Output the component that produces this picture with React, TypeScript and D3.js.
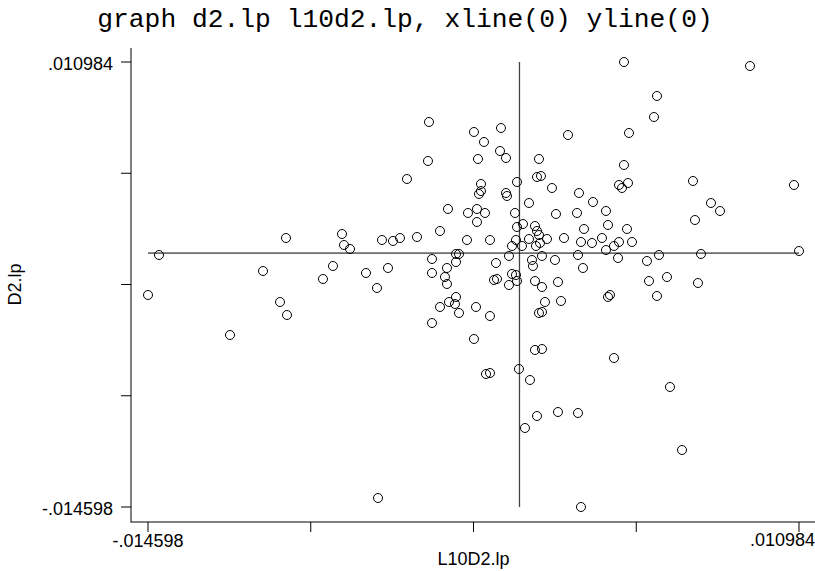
import React from "react";
import * as d3 from "d3";

// Values in units of 1e-3
const UNIT = 1e-3;

// L10D2.lp (x)
const l10d2: number[] = [
  -14.166, -14.598, -11.376, -10.079, -9.176, -9.411, -9.136, -7.722, -7.329, -6.975,
  -6.896, -6.661, -6.032, -5.600, -5.560, -5.167, -5.403, -4.971, -4.696, -4.421,
  -4.028, -3.596, -3.556, -3.124, -3.438, -3.438, -3.438, -3.124, -2.928, -2.849,
  -2.849, -2.810, -2.770, -2.535, -2.495, -2.495, -2.377, -2.495, -2.377, -2.024,
  -2.063, -1.788, -1.788, -1.709, -1.670, -1.670, -1.631, -1.591, -1.513, -1.513,
  -1.395, -1.356, -1.316, -1.159, -1.159, -1.159, -1.002, -0.884, -0.923, -0.766,
  -0.727, -0.530, -0.530, -0.491, -0.413, -0.413, -0.295, -0.295, -0.177, -0.138,
  -0.138, -0.098, -0.098, -0.098, -0.020, 0.098, 0.138, 0.216, 0.373, 0.373,
  0.413, 0.491, 0.530, 0.609, 0.609, 0.609, 0.648, 0.688, 0.688, 0.688,
  0.766, 0.766, 0.766, 0.806, 0.845, 0.884, 0.884, 0.884, 0.884, 1.002,
  1.081, 1.277, 1.395, 1.434, 1.513, 1.513, 1.631, 1.749, 1.906, 2.260,
  2.299, 2.299, 2.338, 2.417, 2.417, 2.495, 2.535, 2.849, 2.888, 3.242,
  3.399, 3.399, 3.478, 3.478, 3.556, 3.713, 3.713, 3.871, 3.910, 3.910,
  4.028, 4.106, 4.106, 4.224, 4.264, 4.303, 4.421, 5.010, 5.089, 5.285,
  5.403, 5.403, 5.482, 5.796, 5.914, 6.386, 6.818, 6.896, 7.014, 7.132,
  7.525, 7.879, 9.058, 10.787, 10.984,
];

// D2.lp (y)
const d2: number[] = [
  -0.111, -2.410, -4.710, -1.031, 0.866, -2.813, -3.560, -1.491, -0.743, 1.096,
  0.464, 0.234, -1.146, -2.008, -14.081, -0.858, 0.751, 0.694, 0.866, 4.258,
  0.924, 5.293, 7.535, 1.269, -0.341, -1.146, -4.020, -3.100, -1.376, -1.778,
  -0.858, 2.534, -2.813, -2.928, -2.525, -0.053, -0.053, -0.513, -3.445, 2.304,
  0.751, 6.960, -4.940, -3.100, 2.534, 1.786, 5.408, 3.396, 3.568, 3.971,
  6.385, 2.304, -6.952, -6.894, 0.751, -3.618, -1.548, -1.491, -0.571, 5.868,
  7.190, 5.465, 3.453, 3.281, -0.168, -1.836, 0.406, -1.203, 2.304, 0.751,
  -1.261, -1.606, 4.086, 1.499, -6.665, 0.406, 1.671, -10.056, 2.878, 0.809,
  -7.297, -0.398, -0.743, 1.556, -1.606, -5.572, 0.406, 4.373, 1.269, -9.367,
  1.039, -3.445, 5.408, 0.579, 4.431, -0.168, -1.951, -3.388, -5.515, -2.813,
  0.809, 3.741, -0.398, 2.246, -1.663, -9.137, -2.755, 0.866, 6.788, 2.304,
  -0.111, -9.194, 3.453, 0.636, -14.598, -0.858, 1.384, 0.579, 2.936, 0.866,
  2.419, 0.176, 1.614, -2.525, -2.410, 0.406, -6.032, -0.283, 0.636, 3.913,
  3.741, 10.984, 5.063, 1.384, 4.028, 6.903, 0.636, -0.456, -1.606, 7.822,
  9.030, -2.468, -0.111, -1.376, -7.699, -11.321, 4.143, 1.901, -1.721, -0.053,
  2.878, 2.419, 10.754, 3.913, 0.119,
];

const axisMin = -0.014598;
const axisMax = 0.010984;
const minLabel = "-.014598";
const maxLabel = ".010984";
const tickCount = 5;

const title = "graph d2.lp l10d2.lp, xline(0) yline(0)";
const xTitle = "L10D2.lp";
const yTitle = "D2.lp";

export default function App() {
  const W = 815;
  const H = 571;
  const x = d3.scaleLinear().domain([axisMin, axisMax]).range([148, 799]);
  const y = d3.scaleLinear().domain([axisMin, axisMax]).range([507, 62]);
  const ticks = d3.range(tickCount).map((i) => axisMin + ((axisMax - axisMin) * i) / (tickCount - 1));
  const axisLeft = 131;
  const axisBottom = 522;
  const axisTop = 48;
  const pts = l10d2.map((v, i) => ({ x: v * UNIT, y: d2[i] * UNIT }));
  const sans = "'Liberation Sans', Arial, Helvetica, sans-serif";

  return (
    <svg
      width={W}
      height={H}
      viewBox={`0 0 ${W} ${H}`}
      style={{ position: "absolute", left: 0, top: 0, background: "#fff" }}
    >
      <rect x={0} y={0} width={W} height={H} fill="#fff" />
      <text
        x={405}
        y={27}
        textAnchor="middle"
        fontFamily="'Liberation Mono', 'Courier New', monospace"
        fontSize={26.3}
        fill="#000"
      >
        {title}
      </text>

      {/* axes */}
      <line x1={axisLeft} x2={axisLeft} y1={axisTop} y2={axisBottom + 0.5} stroke="#000" strokeWidth={1} />
      <line x1={axisLeft} x2={W} y1={axisBottom} y2={axisBottom} stroke="#000" strokeWidth={1} />

      {ticks.map((t, i) => (
        <line key={"yt" + i} x1={axisLeft - 10} x2={axisLeft} y1={y(t)} y2={y(t)} stroke="#000" />
      ))}
      {ticks.map((t, i) => (
        <line key={"xt" + i} x1={x(t)} x2={x(t)} y1={axisBottom} y2={axisBottom + 10} stroke="#000" />
      ))}

      <text x={113} y={y(axisMax) + 7.5} textAnchor="end" fontFamily={sans} fontSize={18}>
        {maxLabel}
      </text>
      <text x={113} y={y(axisMin) + 7.5} textAnchor="end" fontFamily={sans} fontSize={18}>
        {minLabel}
      </text>
      <text x={x(axisMin)} y={547} textAnchor="middle" fontFamily={sans} fontSize={18}>
        {minLabel}
      </text>
      <text x={W} y={546} textAnchor="end" fontFamily={sans} fontSize={18}>
        {maxLabel}
      </text>

      <text x={(x(axisMin) + x(axisMax)) / 2} y={565} textAnchor="middle" fontFamily={sans} fontSize={18}>
        {xTitle}
      </text>
      <text
        transform={`translate(21, ${(y(axisMin) + y(axisMax)) / 2}) rotate(-90)`}
        textAnchor="middle"
        fontFamily={sans}
        fontSize={18}
      >
        {yTitle}
      </text>

      {/* reference lines */}
      <line x1={x(0)} x2={x(0)} y1={y(axisMax)} y2={y(axisMin)} stroke="#444" strokeWidth={1.3} />
      <line x1={x(axisMin)} x2={x(axisMax)} y1={y(0)} y2={y(0)} stroke="#000" strokeWidth={1} />

      {pts.map((p, i) => (
        <circle key={i} cx={x(p.x)} cy={y(p.y)} r={4.5} fill="none" stroke="#000" strokeWidth={1} />
      ))}
    </svg>
  );
}
